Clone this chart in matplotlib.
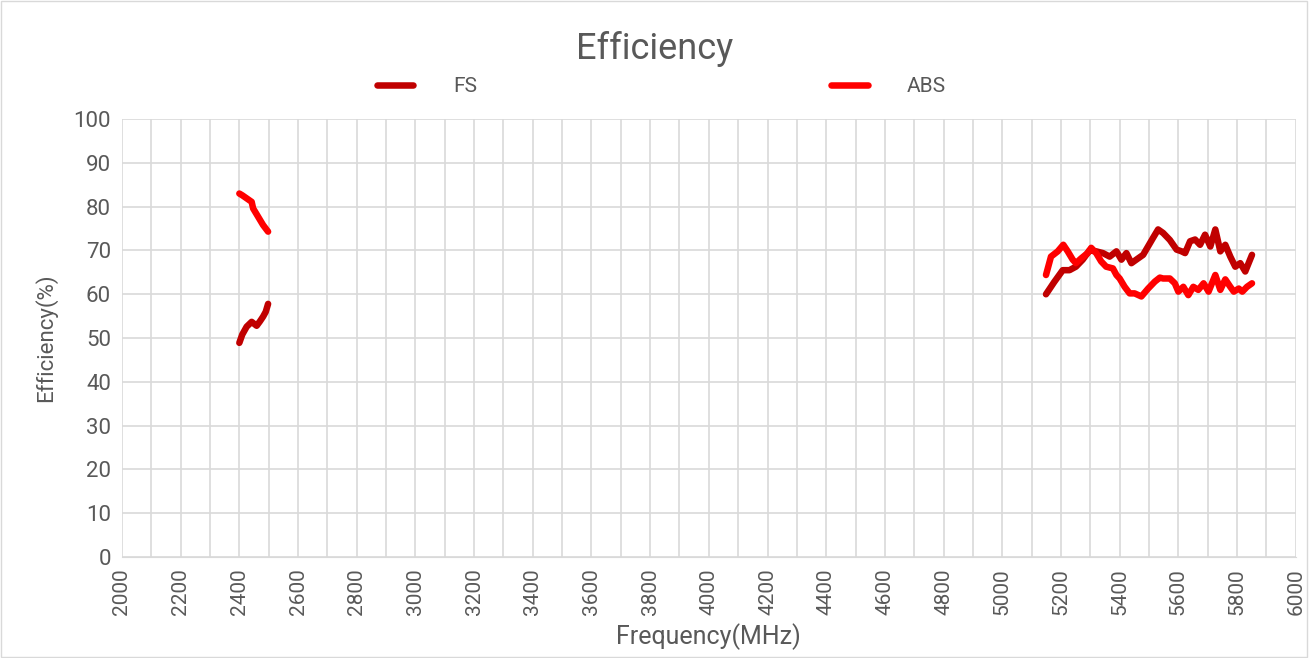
import matplotlib
matplotlib.use("Agg")
import matplotlib.pyplot as plt
from matplotlib.patches import Rectangle

plt.rcParams['font.family'] = ['Roboto', 'DejaVu Sans']

# 2.4 GHz band
fs_lo_freq = [2400, 2410, 2425, 2442, 2459, 2470, 2481, 2490, 2498]
fs_lo_eff = [48.9, 50.8, 52.6, 53.7, 52.8, 53.8, 54.9, 56.0, 57.8]
abs_lo_freq = [2400, 2410, 2425, 2442, 2447, 2464, 2481, 2498]
abs_lo_eff = [83.0, 82.6, 81.9, 81.1, 79.6, 77.7, 75.8, 74.3]

# 5 GHz band
fs_hi_freq = [5149, 5177, 5206, 5229, 5251, 5274, 5297, 5320, 5343, 5366, 5389,
              5406, 5423, 5440, 5463, 5480, 5514, 5531, 5548, 5571, 5594, 5611,
              5623, 5640, 5657, 5674, 5691, 5709, 5726, 5743, 5760, 5777, 5794,
              5811, 5828, 5851]
fs_hi_eff = [60.0, 62.8, 65.5, 65.5, 66.3, 67.9, 70.0, 69.8, 69.4, 68.6, 69.8,
             67.9, 69.4, 67.1, 68.2, 69.0, 72.9, 74.8, 74.0, 72.4, 70.2, 69.8,
             69.4, 72.1, 72.5, 71.3, 73.6, 70.9, 74.8, 69.8, 71.3, 68.6, 66.3,
             67.1, 65.2, 69.0]
abs_hi_freq = [5149, 5166, 5189, 5208, 5223, 5240, 5251, 5269, 5291, 5303, 5320,
               5337, 5354, 5377, 5389, 5400, 5417, 5434, 5451, 5474, 5497, 5520,
               5537, 5548, 5571, 5588, 5600, 5617, 5634, 5651, 5668, 5686, 5703,
               5726, 5743, 5760, 5777, 5789, 5806, 5818, 5834, 5851]
abs_hi_eff = [64.4, 68.6, 69.8, 71.3, 69.8, 67.9, 67.1, 68.2, 69.4, 70.6, 69.4,
              67.5, 66.3, 65.9, 64.4, 63.6, 61.7, 60.2, 60.2, 59.5, 61.3, 62.9,
              63.8, 63.6, 63.6, 62.5, 60.6, 61.7, 59.8, 61.7, 61.0, 62.5, 60.6,
              64.4, 61.0, 63.4, 61.7, 60.6, 61.3, 60.6, 61.7, 62.5]

fs_color = "#C00000"
abs_color = "#FF0000"
text_color = "#595959"
grid_color = "#D9D9D9"

fig = plt.figure(figsize=(13.1, 6.58), dpi=100)
fig.patches.append(Rectangle((0.001, 0.001), 0.997, 0.997, transform=fig.transFigure,
                             fill=False, edgecolor=grid_color, linewidth=1))
ax = fig.add_axes([0.0931, 0.1535, 0.896, 0.6655])

lw = 4.7
ax.plot(fs_lo_freq, fs_lo_eff, color=fs_color, lw=lw, solid_capstyle='round',
        solid_joinstyle='round', label="FS")
ax.plot(fs_hi_freq, fs_hi_eff, color=fs_color, lw=lw, solid_capstyle='round',
        solid_joinstyle='round')
ax.plot(abs_lo_freq, abs_lo_eff, color=abs_color, lw=lw, solid_capstyle='round',
        solid_joinstyle='round', label="ABS")
ax.plot(abs_hi_freq, abs_hi_eff, color=abs_color, lw=lw, solid_capstyle='round',
        solid_joinstyle='round')

ax.set_xlim(2000, 6000)
ax.set_ylim(0, 100)
ax.set_xticks(range(2000, 6001, 200))
ax.set_xticks(range(2000, 6001, 100), minor=True)
ax.set_yticks(range(0, 101, 10))
ax.grid(True, which='both', color=grid_color, lw=1.2)
ax.set_axisbelow(True)
for s in ['top', 'right', 'left']:
    ax.spines[s].set_visible(False)
ax.spines['bottom'].set_color(grid_color)
ax.tick_params(which='both', length=0, colors=text_color, pad=8)
ax.tick_params(axis='y', labelsize=16)
ax.tick_params(axis='x', labelsize=15)
plt.setp(ax.get_xticklabels(), rotation=90)

ax.set_xlabel("Frequency(MHz)", fontsize=18, color=text_color, labelpad=6)
ax.set_ylabel("Efficiency(%)", fontsize=16, color=text_color, labelpad=12)
fig.text(0.5, 0.925, "Efficiency", ha='center', va='center', fontsize=26, color=text_color)

leg = fig.legend(loc='center', bbox_to_anchor=(0.505, 0.868), ncol=2, frameon=False,
                 fontsize=15, handlelength=1.75, handletextpad=1.9, columnspacing=17.0)
for t in leg.get_texts():
    t.set_color(text_color)

fig.savefig("out.png", dpi=100)
